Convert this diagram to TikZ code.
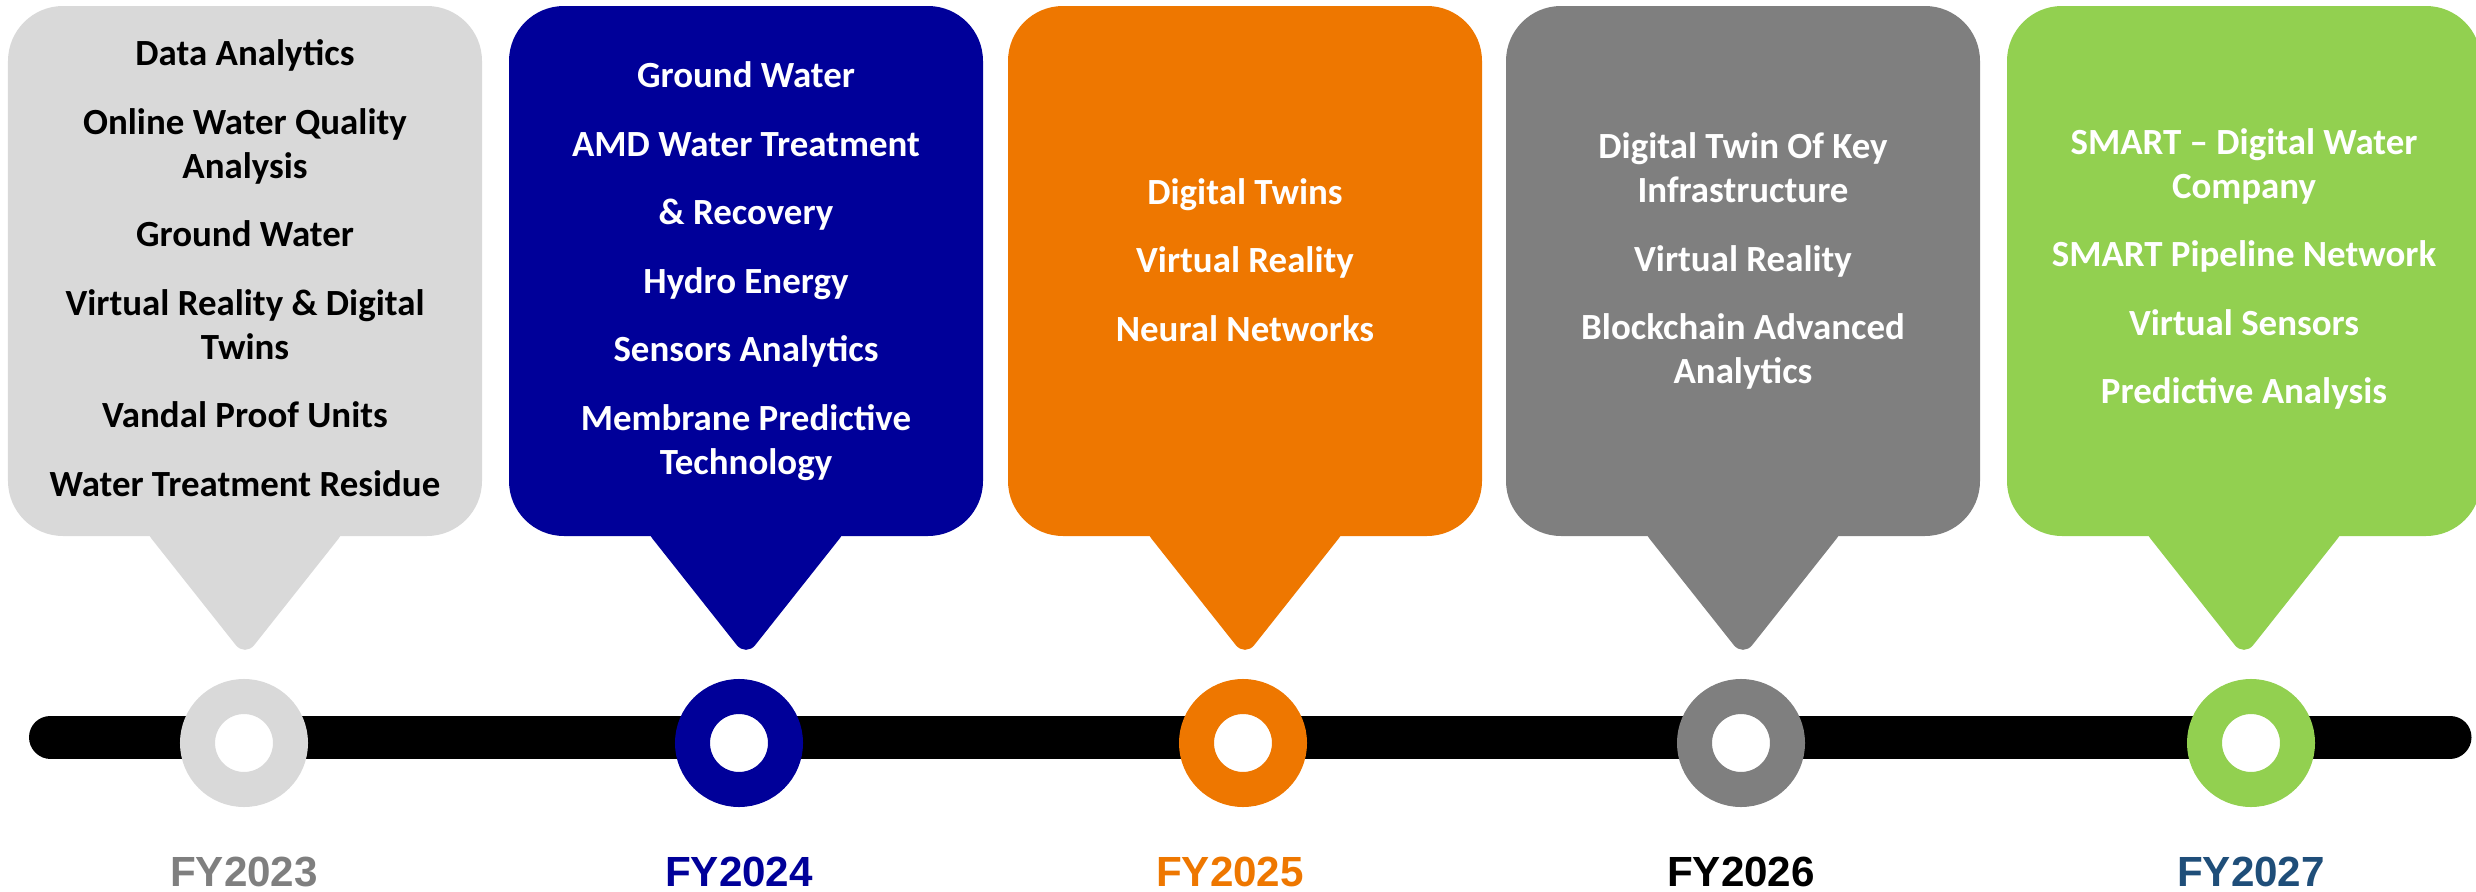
\documentclass[tikz,border=0pt]{standalone}
\usepackage{fontspec}
\setmainfont{Carlito}
\newfontfamily\yearfont{Liberation Sans}
\usetikzlibrary{positioning}
\definecolor{fy23gray}{HTML}{D9D9D9}
\definecolor{fy24navy}{HTML}{000099}
\definecolor{fy25orange}{HTML}{EE7700}
\definecolor{fy26gray}{HTML}{7F7F7F}
\definecolor{fy27green}{HTML}{92D050}
\definecolor{fy27blue}{HTML}{1F4E79}

\begin{document}
\begin{tikzpicture}[
  box/.style={rectangle, rounded corners=5.5mm, minimum width=4.74cm, minimum height=5.30cm, inner sep=0pt},
  item/.style={align=center, inner sep=0pt, text=white, font=\fontsize{10.5}{12.5}\selectfont\bfseries},
  ring/.style={circle, fill=white, line width=3.5mm, minimum size=9.3mm, inner sep=0pt},
  year/.style={inner sep=0pt, font=\yearfont\fontsize{12}{14}\selectfont\bfseries},
  bar/.style={line width=4.3mm, line cap=round}
]
  \useasboundingbox (0,-8.92) rectangle (24.76,0);
  % callout boxes
  \node[box, fill=fy23gray] (b23) at (2.45,-2.71) {};
  \node[box, fill=fy24navy] (b24) at (7.46,-2.71) {};
  \node[box, fill=fy25orange] (b25) at (12.45,-2.71) {};
  \node[box, fill=fy26gray] (b26) at (17.43,-2.71) {};
  \node[box, fill=fy27green] (b27) at (22.44,-2.71) {};
  \foreach \b/\c in {b23/fy23gray, b24/fy24navy, b25/fy25orange, b26/fy26gray, b27/fy27green}
    \fill[\c, rounded corners=1.5mm] ([xshift=-10.3mm, yshift=1mm]\b.south) -- ([xshift=10.3mm, yshift=1mm]\b.south) -- ([yshift=-12mm]\b.south) -- cycle;

  % box texts
  \node[item, text=black] (t23) at ([yshift=0.3mm]b23.center) {Data Analytics\\[7pt]
    Online Water Quality\\Analysis\\[7pt]
    Ground Water\\[7pt]
    Virtual Reality \& Digital\\Twins\\[7pt]
    Vandal Proof Units\\[7pt]
    Water Treatment Residue};
  \node[item] (t24) at (b24.center) {Ground Water\\[7pt]
    AMD Water Treatment\\[7pt]
    \& Recovery\\[7pt]
    Hydro Energy\\[7pt]
    Sensors Analytics\\[7pt]
    Membrane Predictive\\Technology};
  \node[item] (t25) at ([yshift=1.1mm]b25.center) {Digital Twins\\[7pt]
    Virtual Reality\\[7pt]
    Neural Networks};
  \node[item] (t26) at ([yshift=1mm]b26.center) {Digital Twin Of Key\\Infrastructure\\[7pt]
    Virtual Reality\\[7pt]
    Blockchain Advanced\\Analytics};
  \node[item] (t27) at ([yshift=0.2mm]b27.center) {SMART -- Digital Water\\Company\\[7pt]
    SMART Pipeline Network\\[7pt]
    Virtual Sensors\\[7pt]
    Predictive Analysis};

  % timeline
  \coordinate (start) at (0.505,-7.37);
  \coordinate (end) at (24.50,-7.37);
  \draw[bar] (start) -- (end);
  \node[ring, draw=fy23gray] (r23) at (2.44,-7.43) {};
  \node[ring, draw=fy24navy] (r24) at (7.39,-7.43) {};
  \node[ring, draw=fy25orange] (r25) at (12.43,-7.43) {};
  \node[ring, draw=fy26gray] (r26) at (17.41,-7.43) {};
  \node[ring, draw=fy27green] (r27) at (22.51,-7.43) {};

  % years
  \node[year, text=fy26gray, below=4.9mm of r23] (y23) {FY2023};
  \node[year, text=fy24navy, below=4.9mm of r24] (y24) {FY2024};
  \node[year, text=fy25orange, below=4.9mm of r25, xshift=-1.3mm] (y25) {FY2025};
  \node[year, text=black, below=4.9mm of r26] (y26) {FY2026};
  \node[year, text=fy27blue, below=4.9mm of r27] (y27) {FY2027};
\end{tikzpicture}
\end{document}
